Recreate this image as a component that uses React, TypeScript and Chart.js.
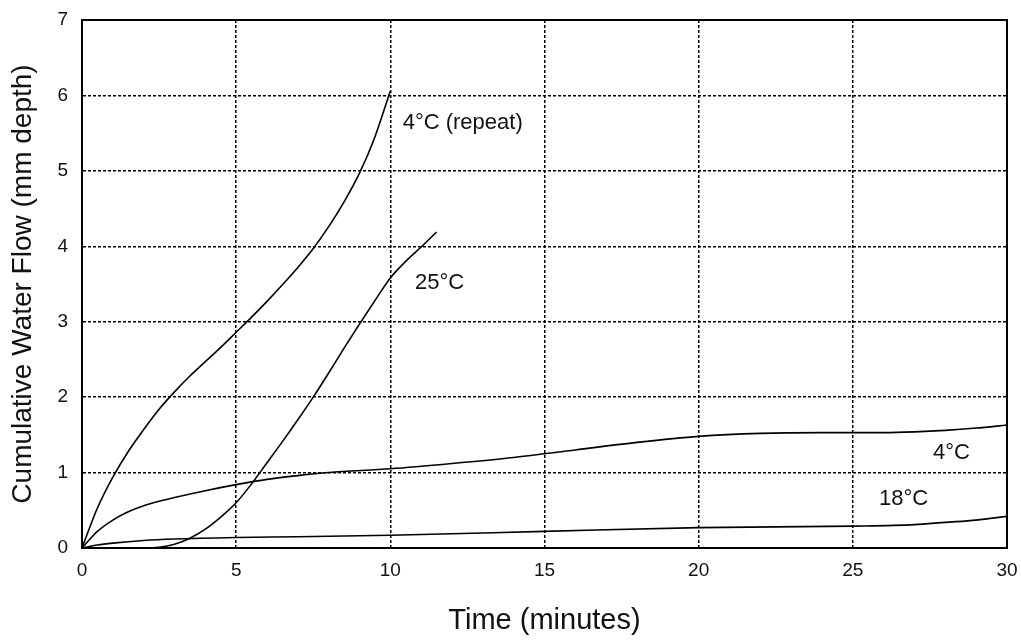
import React, { useEffect, useRef } from "react";
import { Chart, registerables } from "chart.js";

Chart.register(...registerables);

// Time (minutes) and cumulative water flow (mm depth) per curve
const repeat4X = [0, 0.5, 1, 1.5, 2, 2.5, 3, 3.5, 4, 4.5, 5, 5.5, 6, 6.5, 7, 7.5, 8, 8.5, 9, 9.5, 10];
const repeat4Y = [0, 0.53, 0.94, 1.28, 1.57, 1.84, 2.07, 2.28, 2.47, 2.66, 2.86, 3.06, 3.27, 3.49, 3.72, 3.97, 4.26, 4.59, 4.97, 5.45, 6.06];

const c25X = [0, 1, 2, 2.5, 3, 3.5, 4, 4.5, 5, 5.5, 6, 6.5, 7, 7.5, 8, 8.5, 9, 9.5, 10, 10.5, 11, 11.5];
const c25Y = [0, 0, 0, 0.01, 0.05, 0.13, 0.25, 0.41, 0.6, 0.85, 1.13, 1.41, 1.7, 2.0, 2.32, 2.65, 2.97, 3.28, 3.58, 3.8, 3.99, 4.19];

const c4X = [0, 0.5, 1, 1.5, 2, 2.5, 3, 4, 5, 6, 7, 8, 10, 12, 14, 16, 18, 20, 22, 24, 26, 27, 28, 29, 30];
const c4Y = [0, 0.22, 0.37, 0.48, 0.56, 0.62, 0.67, 0.76, 0.84, 0.91, 0.96, 1.0, 1.05, 1.12, 1.2, 1.3, 1.4, 1.48, 1.52, 1.53, 1.53, 1.54, 1.56, 1.59, 1.63];

const c18X = [0, 0.5, 1, 2, 3, 5, 7, 10, 15, 20, 25, 27, 28, 29, 30];
const c18Y = [0, 0.04, 0.065, 0.1, 0.12, 0.14, 0.15, 0.17, 0.22, 0.27, 0.29, 0.31, 0.34, 0.37, 0.42];

const labelTexts = ["4°C (repeat)", "25°C", "4°C", "18°C"];
const labelX = [10.4, 10.8, 27.6, 25.85];
const labelY = [5.63, 3.51, 1.26, 0.65];

const xTicks = [0, 5, 10, 15, 20, 25, 30];
const yTicks = [0, 1, 2, 3, 4, 5, 6, 7];

const FONT = "'Liberation Sans', Arial, Helvetica, sans-serif";

const toPts = (xs: number[], ys: number[]) => xs.map((x, i) => ({ x, y: ys[i] }));

const labelPlugin = {
  id: "curveLabels",
  afterDatasetsDraw(chart: any) {
    const { ctx, scales } = chart;
    ctx.save();
    ctx.fillStyle = "#111";
    ctx.font = `22px ${FONT}`;
    ctx.textAlign = "left";
    ctx.textBaseline = "middle";
    labelTexts.forEach((t, i) => {
      ctx.fillText(t, scales.x.getPixelForValue(labelX[i]), scales.y.getPixelForValue(labelY[i]));
    });
    ctx.restore();
  },
};

const framePlugin = {
  id: "frame",
  afterDraw(chart: any) {
    const { ctx, chartArea } = chart;
    ctx.save();
    ctx.strokeStyle = "#000";
    ctx.lineWidth = 2;
    ctx.strokeRect(chartArea.left, chartArea.top, chartArea.right - chartArea.left, chartArea.bottom - chartArea.top);
    ctx.restore();
  },
};

export default function App() {
  const ref = useRef<HTMLCanvasElement | null>(null);
  useEffect(() => {
    if (!ref.current) return;
    const line = (data: any, mode: "default" | "monotone") => ({
      data,
      borderColor: "#000",
      borderWidth: 1.6,
      pointRadius: 0,
      fill: false,
      tension: 0.4,
      cubicInterpolationMode: mode,
    });
    const chart = new Chart(ref.current, {
      type: "line",
      data: {
        datasets: [
          line(toPts(repeat4X, repeat4Y), "monotone"),
          line(toPts(c25X, c25Y), "monotone"),
          line(toPts(c4X, c4Y), "monotone"),
          line(toPts(c18X, c18Y), "monotone"),
        ],
      },
      options: {
        animation: false,
        responsive: false,
        layout: { padding: { top: 20, right: 14, left: 0, bottom: 0 } },
        plugins: { legend: { display: false }, tooltip: { enabled: false } },
        scales: {
          x: {
            type: "linear",
            min: 0,
            max: 30,
            afterBuildTicks: (s: any) => {
              s.ticks = xTicks.map((v) => ({ value: v }));
            },
            afterFit: (s: any) => {
              s.height = 93;
              s.paddingLeft = 0;
              s.paddingRight = 0;
              s.paddingTop = 0;
              s.paddingBottom = 0;
            },
            grid: {
              color: "#000",
              lineWidth: 1.5,
              drawTicks: false,
            },
            border: { display: true, color: "#000", width: 2, dash: [3, 2] },
            ticks: {
              padding: 11,
              color: "#111",
              font: { family: FONT, size: 19 },
              maxRotation: 0,
            },
            title: {
              display: true,
              text: "Time (minutes)",
              color: "#111",
              font: { family: FONT, size: 29 },
              padding: { top: 0, bottom: 3 },
            },
          },
          y: {
            type: "linear",
            min: 0,
            max: 7,
            afterBuildTicks: (s: any) => {
              s.ticks = yTicks.map((v) => ({ value: v }));
            },
            afterFit: (s: any) => {
              s.width = 82;
              s.paddingLeft = 0;
              s.paddingRight = 0;
              s.paddingTop = 0;
              s.paddingBottom = 0;
            },
            grid: {
              color: "#000",
              lineWidth: 1.5,
              drawTicks: false,
            },
            border: { display: true, color: "#000", width: 2, dash: [3, 2] },
            ticks: {
              padding: 14,
              color: "#111",
              font: { family: FONT, size: 19 },
            },
            title: {
              display: true,
              text: "Cumulative Water Flow (mm depth)",
              color: "#111",
              font: { family: FONT, size: 28 },
              padding: { top: 6, bottom: 0 },
            },
          },
        },
      },
      plugins: [labelPlugin, framePlugin],
    });
    return () => chart.destroy();
  }, []);
  return (
    <div style={{ position: "fixed", left: 0, top: 0, width: 1021, height: 641, background: "#fff" }}>
      <canvas ref={ref} width={1021} height={641} />
    </div>
  );
}
